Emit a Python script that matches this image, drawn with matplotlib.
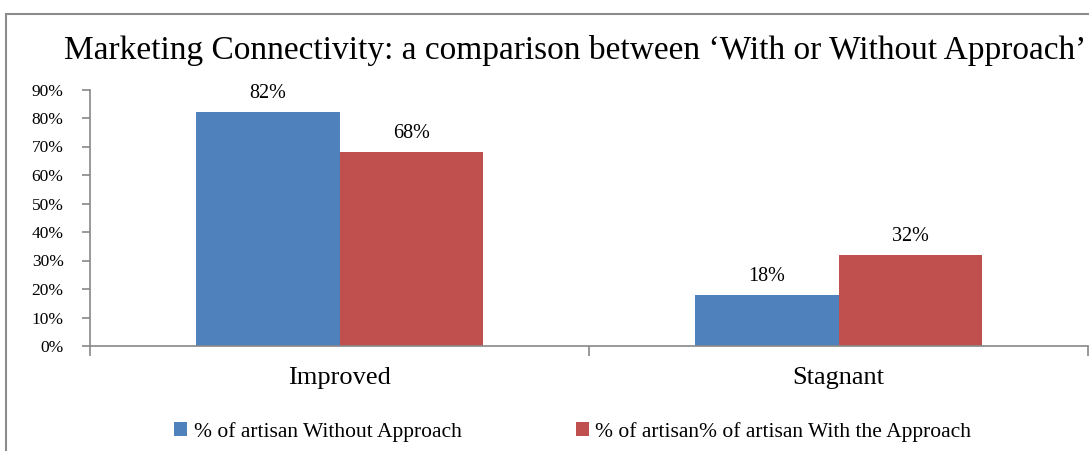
import matplotlib.pyplot as plt
import numpy as np
from matplotlib.patches import Rectangle

categories = ['Improved', 'Stagnant']
without_approach = [82, 18]
with_approach = [68, 32]
series_names = ['% of artisan Without Approach', '% of artisan% of artisan With the Approach']
yticks = [0, 10, 20, 30, 40, 50, 60, 70, 80, 90]

plt.rcParams['font.family'] = ['Liberation Serif', 'DejaVu Serif']

blue = '#4F81BD'
red = '#C0504D'
axis_col = '#878787'

fig = plt.figure(figsize=(10.89, 4.51), dpi=100)
ax = fig.add_axes([90 / 1089, 105 / 451, 998 / 1089, 256.5 / 451])

x = np.arange(len(categories))
w = 0.287
b1 = ax.bar(x - w / 2, without_approach, w, color=blue, label=series_names[0])
b2 = ax.bar(x + w / 2, with_approach, w, color=red, label=series_names[1])

for bars, vals in [(b1, without_approach), (b2, with_approach)]:
    for bar, v in zip(bars, vals):
        ax.annotate(f'{v}%', (bar.get_x() + bar.get_width() / 2, v),
                    xytext=(0, 10), textcoords='offset points',
                    ha='center', va='baseline', fontsize=14.5)

ax.set_xlim(-0.5, 1.5)
ax.set_ylim(0, 90)
ax.set_yticks(yticks)
ax.set_yticklabels([f'{t}%' for t in yticks], fontsize=12.5)
ax.set_xticks([-0.5, 0.5, 1.5], minor=False)
ax.set_xticklabels(['', '', ''])
ax.set_xticks(x, minor=True)
ax.set_xticklabels(categories, minor=True, fontsize=19)
ax.tick_params(axis='x', which='minor', length=0, pad=15)
ax.tick_params(axis='x', which='major', length=7, width=1.2, color=axis_col)
ax.tick_params(axis='y', length=6, width=1.2, color=axis_col, pad=13)

for s in ['top', 'right']:
    ax.spines[s].set_visible(False)
for s in ['left', 'bottom']:
    ax.spines[s].set_color(axis_col)
    ax.spines[s].set_linewidth(1.2)

fig.text(575 / 1089, 392 / 451, 'Marketing Connectivity: a comparison between \u2018With or Without Approach\u2019',
         ha='center', va='baseline', fontsize=24)

fig.legend(handles=[b1, b2], loc='center', bbox_to_anchor=(0.526, 0.043), ncol=2,
           frameon=False, handlelength=0.6, handleheight=0.6, handletextpad=0.3,
           columnspacing=5.3, fontsize=15.5)

fig.patches.append(Rectangle((6 / 1089, -0.05), 1.2, (451 - 14) / 451 + 0.05,
                             transform=fig.transFigure, fill=False,
                             edgecolor='#8c8c8c', linewidth=1.5))

fig.savefig('out.png', dpi=100)
